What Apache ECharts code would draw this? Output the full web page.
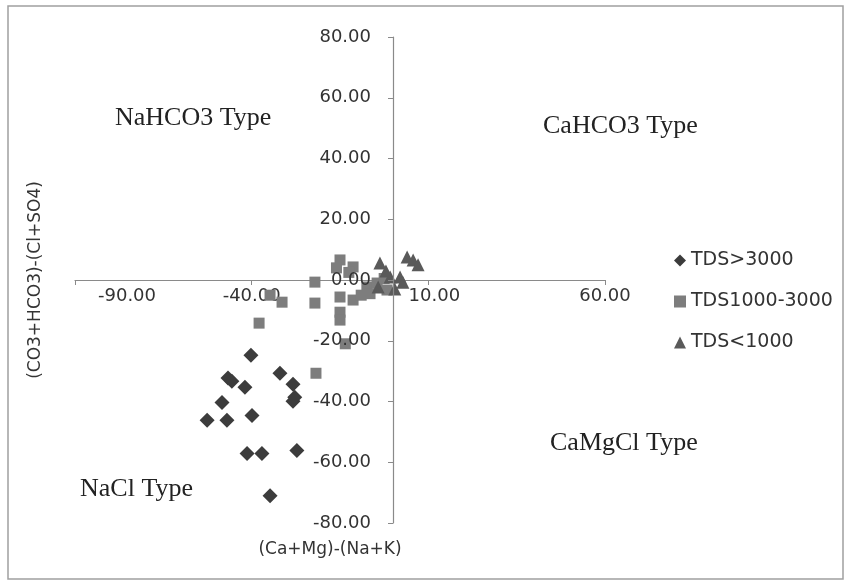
<!DOCTYPE html>
<html>
<head>
<meta charset="utf-8">
<script src="https://cdn.jsdelivr.net/npm/echarts@6/dist/echarts.min.js"></script>
<style>
  html, body { margin: 0; padding: 0; background: #ffffff; }
  #chart { width: 850px; height: 584px; }
</style>
</head>
<body>
<div id="chart"></div>
<script>
// Ion difference plot: (Ca+Mg)-(Na+K) vs (CO3+HCO3)-(Cl+SO4)
const xTicks = [-90, -40, 10, 60];
const yTicks = [-80, -60, -40, -20, 0, 20, 40, 60, 80];

const seriesNames = ['TDS>3000', 'TDS1000-3000', 'TDS<1000'];

const tdsHigh = [
  [-40.2, -24.8], [-46.7, -32.3], [-45.6, -33.3], [-41.9, -35.3],
  [-32.0, -30.7], [-28.3, -34.3], [-28.3, -39.9], [-27.8, -38.6],
  [-48.4, -40.3], [-52.6, -46.2], [-47.0, -46.2], [-39.9, -44.6],
  [-41.3, -57.1], [-37.1, -57.1], [-27.2, -56.1], [-34.8, -71.0]
];

const tdsMid = [
  [-34.8, -5.0], [-31.4, -7.3], [-37.9, -14.2], [-22.1, -0.7],
  [-22.1, -7.6], [-15.0, 6.6], [-15.0, -5.6], [-15.0, -10.6],
  [-15.0, -13.2], [-11.3, 4.3], [-11.3, -6.6], [-7.4, -2.3],
  [-4.5, -1.0], [-1.7, -3.3], [-13.5, -21.0], [-21.8, -30.7],
  [-16.0, 4.0], [-12.5, 2.5], [-6.5, -4.5], [-9.0, -5.0], [-2.5, 0.5]
];

const tdsLow = [
  [-3.7, 5.6], [-0.8, 1.0], [2.0, 1.0], [4.0, 7.6], [5.7, 6.6],
  [7.1, 5.0], [2.8, -0.7], [-4.2, -2.3], [0.5, -3.0], [-2.0, 3.0]
];

const quadrantLabels = ['NaHCO3 Type', 'CaHCO3 Type', 'NaCl Type', 'CaMgCl Type'];

const sansFont = 'DejaVu Sans';
const serifFont = 'Liberation Serif';
const axisGray = '#8a8a8a';

// Plot rectangle
const W = 850, H = 584;
const gridBox = { left: 75, right: 245, top: 37, bottom: 61 };
const gridW = W - gridBox.left - gridBox.right;
const gridH = H - gridBox.top - gridBox.bottom;

const xMin = xTicks[0], xMax = xTicks[xTicks.length - 1];
const yMin = yTicks[0], yMax = yTicks[yTicks.length - 1];

// Shift both axes (line, ticks, labels, name) so they cross at the origin
const xAxisOffset = -((0 - yMin) / (yMax - yMin)) * gridH;
const yAxisOffset = -((0 - xMin) / (xMax - xMin)) * gridW;

const chart = echarts.init(document.getElementById('chart'), null, { renderer: 'canvas' });

function fmt(v) { return Number(v).toFixed(2); }

const option = {
  backgroundColor: '#ffffff',
  animation: false,
  grid: Object.assign({ containLabel: false, outerBoundsMode: 'none' }, gridBox),
  xAxis: {
    type: 'value',
    position: 'bottom',
    offset: xAxisOffset,
    min: xMin,
    max: xMax,
    interval: xTicks[1] - xTicks[0],
    name: '(Ca+Mg)-(Na+K)',
    nameLocation: 'middle',
    nameGap: 261,
    nameTextStyle: { fontFamily: sansFont, fontSize: 17, color: '#333', padding: [0, 20, 0, 0] },
    axisLine: { onZero: false, lineStyle: { color: axisGray, width: 1.2 } },
    axisTick: { show: true, length: 5, lineStyle: { color: axisGray } },
    splitLine: { show: false },
    axisLabel: {
      margin: 7,
      color: '#333',
      fontFamily: sansFont,
      fontSize: 18,
      formatter: function (v) {
        if (v === xTicks[0]) return '{first|' + fmt(v) + '}';
        if (v === 10) return '{shift|' + fmt(v) + '}';
        return fmt(v);
      },
      rich: {
        first: { fontFamily: sansFont, fontSize: 18, color: '#333', padding: [0, 0, 0, 104] },
        shift: { fontFamily: sansFont, fontSize: 18, color: '#333', padding: [0, 0, 0, 12] }
      }
    }
  },
  yAxis: {
    type: 'value',
    position: 'left',
    offset: yAxisOffset,
    z: 4,
    min: yMin,
    max: yMax,
    interval: yTicks[1] - yTicks[0],
    name: '(CO3+HCO3)-(Cl+SO4)',
    nameLocation: 'middle',
    nameGap: 349,
    nameTextStyle: { fontFamily: sansFont, fontSize: 17, color: '#333' },
    axisLine: { onZero: false, lineStyle: { color: axisGray, width: 1.2 } },
    axisTick: { show: true, length: 5, lineStyle: { color: axisGray } },
    splitLine: { show: false },
    axisLabel: {
      margin: 22,
      color: '#333',
      fontFamily: sansFont,
      fontSize: 18,
      formatter: fmt
    }
  },
  legend: {
    orient: 'vertical',
    left: 669,
    top: 246,
    itemGap: 22,
    itemWidth: 12,
    itemHeight: 12,
    textStyle: { fontFamily: sansFont, fontSize: 19, color: '#333' },
    data: [
      { name: seriesNames[0], icon: 'diamond' },
      { name: seriesNames[1], icon: 'rect' },
      { name: seriesNames[2], icon: 'triangle' }
    ]
  },
  series: [
    {
      name: seriesNames[0],
      type: 'scatter',
      symbol: 'diamond',
      symbolSize: 15,
      data: tdsHigh,
      itemStyle: { color: '#3c3c3c', opacity: 1 },
      z: 3
    },
    {
      name: seriesNames[1],
      type: 'scatter',
      symbol: 'rect',
      symbolSize: 11,
      data: tdsMid,
      itemStyle: { color: '#7d7d7d', opacity: 1 },
      z: 3
    },
    {
      name: seriesNames[2],
      type: 'scatter',
      symbol: 'triangle',
      symbolSize: 13,
      data: tdsLow,
      itemStyle: { color: '#5a5a5a', opacity: 1 },
      z: 3
    }
  ],
  graphic: [
    {
      type: 'rect',
      shape: { x: 8, y: 6, width: 835, height: 573 },
      style: { fill: 'none', stroke: '#a0a0a0', lineWidth: 1.5 },
      silent: true,
      z: -1
    },
    {
      type: 'text', left: 115, top: 105,
      style: { text: quadrantLabels[0], font: '26px "' + serifFont + '"', fill: '#222' }
    },
    {
      type: 'text', left: 543, top: 113,
      style: { text: quadrantLabels[1], font: '26px "' + serifFont + '"', fill: '#222' }
    },
    {
      type: 'text', left: 80, top: 476,
      style: { text: quadrantLabels[2], font: '26px "' + serifFont + '"', fill: '#222' }
    },
    {
      type: 'text', left: 550, top: 430,
      style: { text: quadrantLabels[3], font: '26px "' + serifFont + '"', fill: '#222' }
    }
  ]
};

chart.setOption(option);
</script>
</body>
</html>
